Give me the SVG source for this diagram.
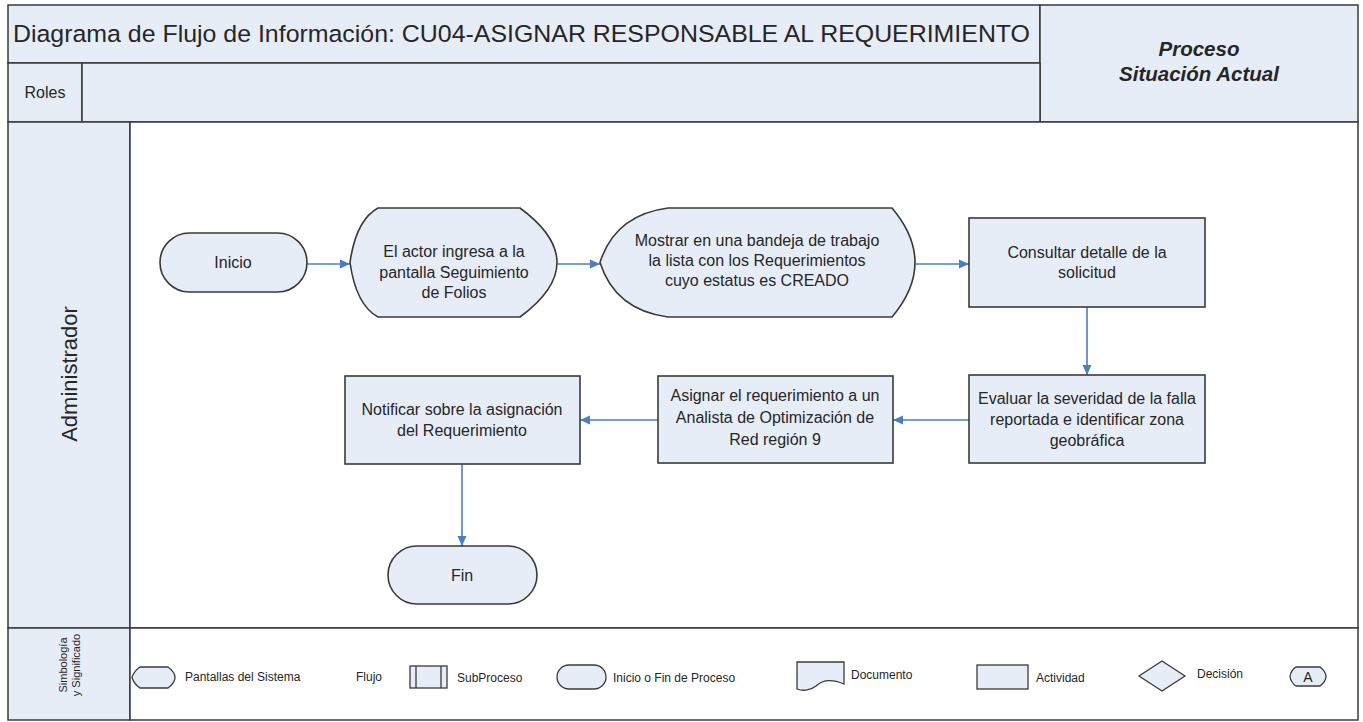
<svg xmlns="http://www.w3.org/2000/svg" width="1363" height="722" viewBox="0 0 1363 722">
<style>
  .cell { fill: #e7edf7; stroke: #3a3a3a; stroke-width: 1.5; }
  .white { fill: #ffffff; stroke: #3a3a3a; stroke-width: 1.5; }
  .node { fill: #e7edf7; stroke: #3a3a3a; stroke-width: 1.6; }
  .icon { fill: #e7edf7; stroke: #3a3a3a; stroke-width: 1.3; }
  .t { font-family: "Liberation Sans", Arial, sans-serif; fill: #262626; }
  .nt { font-family: "Liberation Sans", Arial, sans-serif; fill: #262626; font-size: 16px; text-anchor: middle; }
  .lg { font-family: "Liberation Sans", Arial, sans-serif; fill: #262626; font-size: 12px; }
  .conn { fill: none; stroke: #4a7ebf; stroke-width: 1.6; marker-end: url(#arr); }
</style>
<defs>
  <marker id="arr" viewBox="0 0 10 10" refX="10" refY="5" markerWidth="10" markerHeight="10" markerUnits="userSpaceOnUse" orient="auto">
    <path d="M0,0.5 L10,5 L0,9.5 Z" fill="#4a7ebf"/>
  </marker>
</defs>
<rect x="0" y="0" width="1363" height="722" fill="#ffffff"/>

<g id="frame">
  <rect class="cell" x="8" y="5" width="1032" height="58"/>
  <rect class="cell" x="1040" y="5" width="318" height="117"/>
  <rect class="cell" x="8" y="63" width="74" height="59"/>
  <rect class="cell" x="82" y="63" width="958" height="59"/>
  <rect class="cell" x="8" y="122" width="122" height="506"/>
  <rect class="white" x="130" y="122" width="1228" height="506"/>
  <rect class="cell" x="8" y="628" width="122" height="92"/>
  <rect class="white" x="130" y="628" width="1228" height="92"/>
  <text class="t" x="13" y="42" font-size="24.5" textLength="1017" lengthAdjust="spacingAndGlyphs">Diagrama de Flujo de Información: CU04-ASIGNAR RESPONSABLE AL REQUERIMIENTO</text>
  <text class="t" x="1199" y="56" font-size="20.5" font-weight="bold" font-style="italic" text-anchor="middle">Proceso</text>
  <text class="t" x="1199" y="81" font-size="20.5" font-weight="bold" font-style="italic" text-anchor="middle">Situación Actual</text>
  <text class="t" x="45" y="98" font-size="16" text-anchor="middle">Roles</text>
  <text class="t" x="0" y="0" font-size="22" text-anchor="middle" transform="translate(77,374) rotate(-90)">Administrador</text>
  <text class="t" x="0" y="0" font-size="11" text-anchor="middle" transform="translate(67,665) rotate(-90)">Simbología</text>
  <text class="t" x="0" y="0" font-size="11" text-anchor="middle" transform="translate(80,665) rotate(-90)">y Significado</text>
</g>

<g id="connectors">
  <path class="conn" d="M307,264 L350,264"/>
  <path class="conn" d="M557,264 L600,264"/>
  <path class="conn" d="M916,264 L969,264"/>
  <path class="conn" d="M1087,307 L1087,375"/>
  <path class="conn" d="M969,420 L893,420"/>
  <path class="conn" d="M658,420 L580,420"/>
  <path class="conn" d="M462,464 L462,546"/>
</g>

<g id="inicio">
  <rect class="node" x="160" y="233" width="147" height="59" rx="29.5" ry="29.5"/>
  <text class="nt" x="233" y="268">Inicio</text>
</g>

<g id="pantalla-seguimiento">
  <path class="node" d="M378,208 L520,208 Q594,262.5 520,317 L378,317 Q356,305 350,262.5 Q356,220 378,208 Z"/>
  <text class="nt" x="454" y="257">El actor ingresa a la</text>
  <text class="nt" x="454" y="278">pantalla Seguimiento</text>
  <text class="nt" x="454" y="298">de Folios</text>
</g>

<g id="bandeja">
  <path class="node" d="M668,208 L892,208 Q938,262.5 892,317 L668,317 Q615,310 600,262.5 Q615,215 668,208 Z"/>
  <text class="nt" x="757" y="246">Mostrar en una bandeja de trabajo</text>
  <text class="nt" x="757" y="266">la lista con los Requerimientos</text>
  <text class="nt" x="757" y="286">cuyo estatus es CREADO</text>
</g>

<g id="consultar">
  <rect class="node" x="969" y="218" width="236" height="89"/>
  <text class="nt" x="1087" y="258">Consultar detalle de la</text>
  <text class="nt" x="1087" y="278">solicitud</text>
</g>

<g id="evaluar">
  <rect class="node" x="969" y="375" width="236" height="88"/>
  <text class="nt" x="1087" y="404">Evaluar la severidad de la falla</text>
  <text class="nt" x="1087" y="425">reportada e identificar zona</text>
  <text class="nt" x="1087" y="446">geobráfica</text>
</g>

<g id="asignar">
  <rect class="node" x="658" y="376" width="235" height="87"/>
  <text class="nt" x="775" y="401">Asignar el requerimiento a un</text>
  <text class="nt" x="775" y="423">Analista de Optimización de</text>
  <text class="nt" x="775" y="445">Red región 9</text>
</g>

<g id="notificar">
  <rect class="node" x="345" y="376" width="235" height="88"/>
  <text class="nt" x="462" y="415">Notificar sobre la asignación</text>
  <text class="nt" x="462" y="436">del Requerimiento</text>
</g>

<g id="fin">
  <rect class="node" x="388" y="546" width="149" height="58" rx="29" ry="29"/>
  <text class="nt" x="462" y="581">Fin</text>
</g>

<g id="legend">
  <path class="icon" d="M140,667 L168,667 Q182,677.5 168,688 L140,688 Q134,684 132,677.5 Q134,671 140,667 Z"/>
  <text class="lg" x="185" y="681">Pantallas del Sistema</text>
  <text class="lg" x="356" y="681">Flujo</text>
  <rect class="icon" x="410" y="666" width="37" height="22"/>
  <line x1="416" y1="666" x2="416" y2="688" stroke="#3a3a3a" stroke-width="1.3"/>
  <line x1="441" y1="666" x2="441" y2="688" stroke="#3a3a3a" stroke-width="1.3"/>
  <text class="lg" x="457" y="682">SubProceso</text>
  <rect class="icon" x="557" y="665" width="49" height="24" rx="12" ry="12"/>
  <text class="lg" x="613" y="682">Inicio o Fin de Proceso</text>
  <path class="icon" d="M797,662 L844,662 L844,684 C832,679 822,680 816,686 C810,691 802,691 797,689 Z"/>
  <text class="lg" x="851" y="679">Documento</text>
  <rect class="icon" x="977" y="665" width="51" height="24"/>
  <text class="lg" x="1036" y="682">Actividad</text>
  <path class="icon" d="M1162,661 L1185,676 L1162,691 L1139,676 Z"/>
  <text class="lg" x="1197" y="678">Decisión</text>
  <path class="icon" d="M1296,667 L1320,667 Q1332,676.5 1320,686 L1296,686 Q1291,683 1290,676.5 Q1291,670 1296,667 Z"/>
  <text class="t" x="1308" y="682" font-size="14" text-anchor="middle">A</text>
</g>
</svg>
